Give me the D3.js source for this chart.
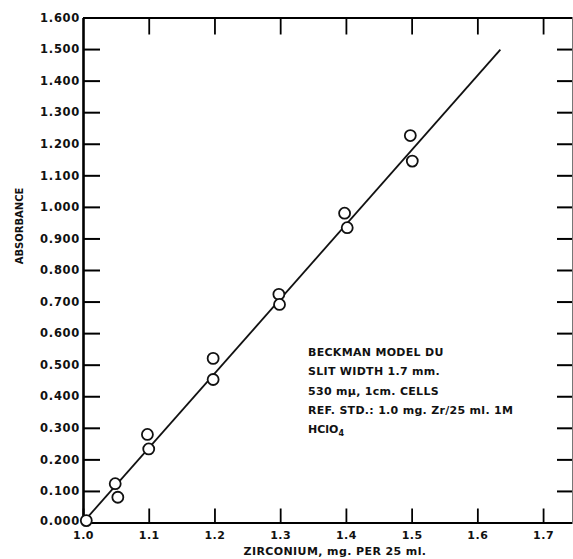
<!DOCTYPE html>
<html>
<head>
<meta charset="utf-8">
<script src="https://cdn.jsdelivr.net/npm/d3@7"></script>
<style>
  body { margin: 0; background: #fff; }
  text { font-family: "DejaVu Sans", sans-serif; fill: #111; }
</style>
</head>
<body>
<div id="chart"></div>
<script>
// zirconium (mg per 25 ml) vs absorbance
const zirconium = [1.005, 1.049, 1.053, 1.098, 1.100, 1.198, 1.198, 1.298, 1.299, 1.398, 1.402, 1.498, 1.501];
const absorbance = [0.006, 0.123, 0.080, 0.279, 0.233, 0.520, 0.453, 0.723, 0.691, 0.980, 0.934, 1.226, 1.145];
// fitted line end points
const fitX = [1.0, 1.635];
const fitY = [0.0, 1.498];
const xTicks = [1.0, 1.1, 1.2, 1.3, 1.4, 1.5, 1.6, 1.7];
const yTicks = [0, 0.1, 0.2, 0.3, 0.4, 0.5, 0.6, 0.7, 0.8, 0.9, 1.0, 1.1, 1.2, 1.3, 1.4, 1.5, 1.6];
const notes = ['BECKMAN  MODEL  DU', 'SLIT WIDTH  1.7 mm.', '530 mμ,  1cm.  CELLS', 'REF. STD.: 1.0 mg.  Zr/25 ml.  1M'];

const width = 573, height = 559;
const svg = d3.select('#chart').append('svg')
    .attr('width', width)
    .attr('height', height);

const x = d3.scaleLinear().domain([1.0, 1.744]).range([83, 572]);
const y = d3.scaleLinear().domain([0, 1.6]).range([522.5, 17.5]);

// bottom axis with labels
const gb = svg.append('g')
    .attr('transform', `translate(0,${y(0)})`)
    .call(d3.axisBottom(x).tickValues(xTicks).tickSize(-14).tickSizeOuter(0).tickPadding(9)
        .tickFormat(d3.format('.1f')));
gb.select('.domain').attr('stroke-width', 2.2);
gb.selectAll('.tick line').attr('stroke-width', 1.8);
gb.selectAll('.tick text')
    .style('font-size', '11px').style('font-weight', 'bold').style('letter-spacing', '0.5px');

// top axis, ticks only
const gt = svg.append('g')
    .attr('transform', `translate(0,${y(1.6)})`)
    .call(d3.axisTop(x).tickValues(xTicks.slice(1)).tickSize(-17).tickSizeOuter(0).tickFormat(''));
gt.select('.domain').attr('stroke-width', 2);
gt.selectAll('.tick line').attr('stroke-width', 1.8);

// left axis with labels
const gl = svg.append('g')
    .attr('transform', `translate(${x(1.0)},0)`)
    .call(d3.axisLeft(y).tickValues(yTicks).tickSize(-17).tickSizeOuter(0).tickPadding(3)
        .tickFormat(d3.format('.3f')));
gl.select('.domain').attr('stroke-width', 2.6);
gl.selectAll('.tick line').attr('stroke-width', 2);
gl.selectAll('.tick text')
    .style('font-size', '11.5px').style('font-weight', 'bold').style('letter-spacing', '0.7px');
gl.selectAll('.tick text').filter(d => d === 0).attr('dy', '0.2em');

// right axis, ticks only
const gr = svg.append('g')
    .attr('transform', `translate(${x(1.744)},0)`)
    .call(d3.axisRight(y).tickValues(yTicks.slice(1, -1)).tickSize(-15).tickSizeOuter(0).tickFormat(''));
gr.select('.domain').attr('stroke-width', 1).attr('stroke', '#777');
gr.selectAll('.tick line').attr('stroke-width', 2);

// fitted line
svg.append('path')
    .datum(fitX.map((d, i) => [d, fitY[i]]))
    .attr('fill', 'none')
    .attr('stroke', '#111')
    .attr('stroke-width', 1.8)
    .attr('d', d3.line().x(d => x(d[0])).y(d => y(d[1])));

// data points
svg.selectAll('circle.pt')
    .data(zirconium.map((d, i) => ({ z: d, a: absorbance[i] })))
    .enter()
    .append('circle')
    .attr('class', 'pt')
    .attr('cx', d => x(d.z))
    .attr('cy', d => y(d.a))
    .attr('r', 5.5)
    .attr('fill', '#fff')
    .attr('stroke', '#111')
    .attr('stroke-width', 1.8);

// axis titles
svg.append('text')
    .attr('x', 335).attr('y', 555)
    .attr('text-anchor', 'middle')
    .style('font-size', '11px').style('font-weight', 'bold').style('letter-spacing', '0.4px')
    .text('ZIRCONIUM,  mg. PER 25 ml.');

svg.append('text')
    .attr('transform', 'translate(23,226) rotate(-90)')
    .attr('text-anchor', 'middle')
    .style('font-size', '10px').style('font-weight', 'bold')
    .text('ABSORBANCE');

// instrument notes
const nt = svg.append('g').attr('transform', 'translate(308,0)');
nt.selectAll('text.note')
    .data(notes)
    .enter()
    .append('text')
    .attr('class', 'note')
    .attr('x', 0)
    .attr('y', (d, i) => 356 + i * 19.3)
    .style('font-size', '11px').style('font-weight', 'bold').style('letter-spacing', '0.3px')
    .text(d => d);

const hc = nt.append('text')
    .attr('x', 0).attr('y', 356 + 4 * 19.3)
    .style('font-size', '11px').style('font-weight', 'bold');
hc.append('tspan').text('HClO');
hc.append('tspan').attr('dy', 3).style('font-size', '8px').text('4');
</script>
</body>
</html>
